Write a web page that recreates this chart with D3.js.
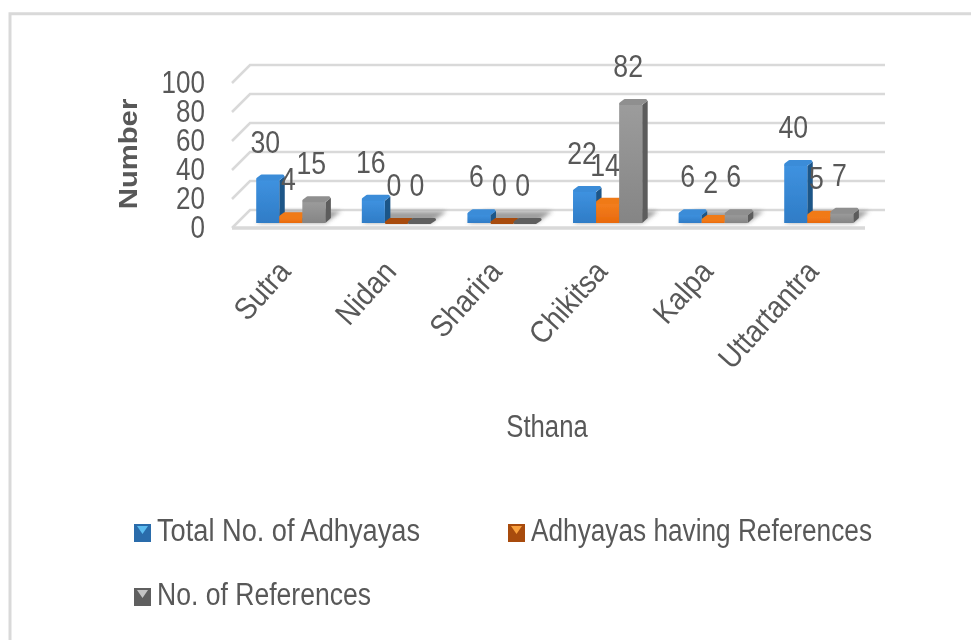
<!DOCTYPE html>
<html>
<head>
<meta charset="utf-8">
<script src="https://cdn.jsdelivr.net/npm/d3@7"></script>
<style>
  html, body { margin: 0; padding: 0; background: #fff; }
  svg { display: block; }
  text { font-family: "Liberation Sans", sans-serif; fill: #595959; }
</style>
</head>
<body>
<div id="chart"></div>
<script>
// Chart data
const categories = ["Sutra", "Nidan", "Sharira", "Chikitsa", "Kalpa", "Uttartantra"];
const seriesNames = ["Total No. of Adhyayas", "Adhyayas having References", "No. of References"];
const totalAdhyayas = [30, 16, 6, 22, 6, 40];
const adhyayasWithRefs = [4, 0, 0, 14, 2, 5];
const references = [15, 0, 0, 82, 6, 7];
const yTicks = [0, 20, 40, 60, 80, 100];

const seriesValues = [totalAdhyayas, adhyayasWithRefs, references];
const palette = [
  { front: "#2f7cc6", light: "#3f92e0", side: "#1f5688", cap: "#3a8cd8", flat: "#2a6cab", swatch: "#5bbcf0" },
  { front: "#e8690c", light: "#f47f1e", side: "#a84c0a", cap: "#f07a18", flat: "#a84c0a", swatch: "#f9a03c" },
  { front: "#858585", light: "#9c9c9c", side: "#5c5c5c", cap: "#8f8f8f", flat: "#5f5f5f", swatch: "#c4c4c4" },
];

const width = 971;
const height = 640;
const depth = 18; // how far the back wall sits up and right of the floor front

const svg = d3
  .select("#chart")
  .append("svg")
  .attr("width", width)
  .attr("height", height);

const defs = svg.append("defs");
defs.append("filter").attr("id", "soft")
  .attr("x", "-5%").attr("y", "-5%").attr("width", "110%").attr("height", "110%")
  .append("feGaussianBlur").attr("stdDeviation", 0.6);
defs.append("filter").attr("id", "barSoft")
  .attr("x", "-20%").attr("y", "-20%").attr("width", "140%").attr("height", "140%")
  .append("feGaussianBlur").attr("stdDeviation", 0.7);
defs.append("filter").attr("id", "shadow")
  .attr("x", "-30%").attr("y", "-30%").attr("width", "160%").attr("height", "160%")
  .append("feGaussianBlur").attr("stdDeviation", 2);

palette.forEach((p, i) => {
  const grad = defs.append("linearGradient").attr("id", `front${i}`)
    .attr("x1", 0).attr("y1", 0).attr("x2", 0).attr("y2", 1);
  grad.append("stop").attr("offset", "0%").attr("stop-color", p.light);
  grad.append("stop").attr("offset", "100%").attr("stop-color", p.front);
});

// Squeeze text sideways, the only sans here that comes close to the narrow look
function condense(selection, factor) {
  selection.each(function () {
    const len = this.getComputedTextLength();
    d3.select(this)
      .attr("textLength", len * factor)
      .attr("lengthAdjust", "spacingAndGlyphs");
  });
  return selection;
}

const chart = svg.append("g").attr("filter", "url(#soft)");

// Outer frame (only top and left show in the crop)
chart.append("path")
  .attr("d", `M10,${height} V13.8 H${width}`)
  .attr("fill", "none")
  .attr("stroke", "#d9d9d9")
  .attr("stroke-width", 3);

// Scales
const xScale = d3.scaleBand().domain(categories)
  .range([238, 871.6]).paddingInner(0.345).paddingOuter(0.1725);
const seriesScale = d3.scaleBand().domain(d3.range(3)).range([0, xScale.bandwidth()]);
const yScale = d3.scaleLinear().domain([0, 100]).range([228, 83]);

// Back wall gridlines and their slanted side pieces
const grid = chart.append("g").attr("fill", "none").attr("stroke", "#d9d9d9").attr("stroke-width", 2.5);
yTicks.forEach((t) => {
  grid.append("path").attr(
    "d",
    `M232,${yScale(t)} L${232 + depth},${yScale(t) - depth} H885`
  );
});

// Floor front edge
grid.append("path").attr("d", `M232,${yScale(0)} H865`).attr("stroke-width", 3.5);

// Shadows falling on the floor behind each group
const barBase = yScale(0) - 5;
categories.forEach((c) => {
  const x0 = xScale(c) + seriesScale(0);
  const x1 = xScale(c) + xScale.bandwidth();
  chart.append("path")
    .attr("d", `M${x0},${barBase} L${x1},${barBase} L${x1 + 16},${barBase - 12} L${x0 + 16},${barBase - 12} Z`)
    .attr("fill", "#777")
    .attr("opacity", 0.7)
    .attr("filter", "url(#shadow)");
});

// Bars, left to right so each one covers the side of the previous
const barsG = chart.append("g").attr("filter", "url(#barSoft)");
const labels = [];
categories.forEach((c, ci) => {
  seriesValues.forEach((values, si) => {
    const v = values[ci];
    const p = palette[si];
    const bw = seriesScale.bandwidth();
    const x = xScale(c) + seriesScale(si);
    const top = barBase - (yScale(0) - yScale(v));
    const dx = 5.5;
    const dy = 5;
    const g = barsG.append("g").attr("stroke-linejoin", "round");

    if (v > 0) {
      g.append("path")
        .attr("d", `M${x + bw},${barBase} L${x + bw + dx},${barBase - dy} V${top - dy + 1.5} L${x + bw},${top + 1} Z`)
        .attr("fill", p.side);
      g.append("rect")
        .attr("x", x).attr("y", top)
        .attr("width", bw).attr("height", barBase - top)
        .attr("fill", `url(#front${si})`);
    }
    g.append("path")
      .attr("d", `M${x + 1.5},${top - 0.5} H${x + bw - 1} L${x + bw + dx - 2},${top - dy + 1.5} H${x + dx} Z`)
      .attr("fill", v > 0 ? p.cap : p.flat)
      .attr("stroke", v > 0 ? p.cap : p.flat)
      .attr("stroke-width", 3);

    labels.push({ x: x + bw / 2 - 2.5, y: top - 27, v });
  });
});

// Data labels sit above everything
chart.append("g").selectAll("text").data(labels).enter().append("text")
  .attr("x", (d) => d.x)
  .attr("y", (d) => d.y)
  .attr("text-anchor", "middle")
  .style("font-size", "31px")
  .text((d) => d.v)
  .call(condense, 0.86);

// Y axis
const yAxis = chart.append("g")
  .attr("transform", "translate(232,0)")
  .call(d3.axisLeft(yScale).tickValues(yTicks).tickSize(0).tickPadding(27));
yAxis.attr("font-family", null).attr("font-size", null);
yAxis.select(".domain").remove();
yAxis.selectAll("text").style("font-size", "31px").call(condense, 0.84);

// Category labels
categories.forEach((c) => {
  const cx = xScale(c) + xScale.bandwidth() / 2;
  chart.append("text")
    .attr("transform", `translate(${cx - 15},${258}) rotate(-48)`)
    .attr("text-anchor", "end")
    .attr("dy", "0.71em")
    .style("font-size", "31px")
    .text(c)
    .call(condense, 0.9);
});

// Axis titles
chart.append("text")
  .attr("transform", "translate(137,154) rotate(-90)")
  .attr("text-anchor", "middle")
  .style("font-size", "25px")
  .style("font-weight", "bold")
  .text("Number")
  .call(condense, 1.17);

chart.append("text")
  .attr("x", 547).attr("y", 437)
  .attr("text-anchor", "middle")
  .style("font-size", "31px")
  .text("Sthana")
  .call(condense, 0.83);

// Legend
const legendSpots = [
  { x: 134, y: 524, textWidth: 263 },
  { x: 508, y: 524, textWidth: 341 },
  { x: 134, y: 588, textWidth: 214 },
];
seriesNames.forEach((name, i) => {
  const s = legendSpots[i];
  const p = palette[i];
  const g = chart.append("g").attr("transform", `translate(${s.x},${s.y})`);
  g.append("rect").attr("width", 17).attr("height", 18).attr("fill", p.flat);
  g.append("path").attr("d", "M3,2 H14 L8.5,10 Z").attr("fill", p.swatch);
  g.append("text")
    .attr("x", 23).attr("y", 17)
    .attr("textLength", s.textWidth)
    .attr("lengthAdjust", "spacingAndGlyphs")
    .style("font-size", "31px")
    .text(name);
});
</script>
</body>
</html>
